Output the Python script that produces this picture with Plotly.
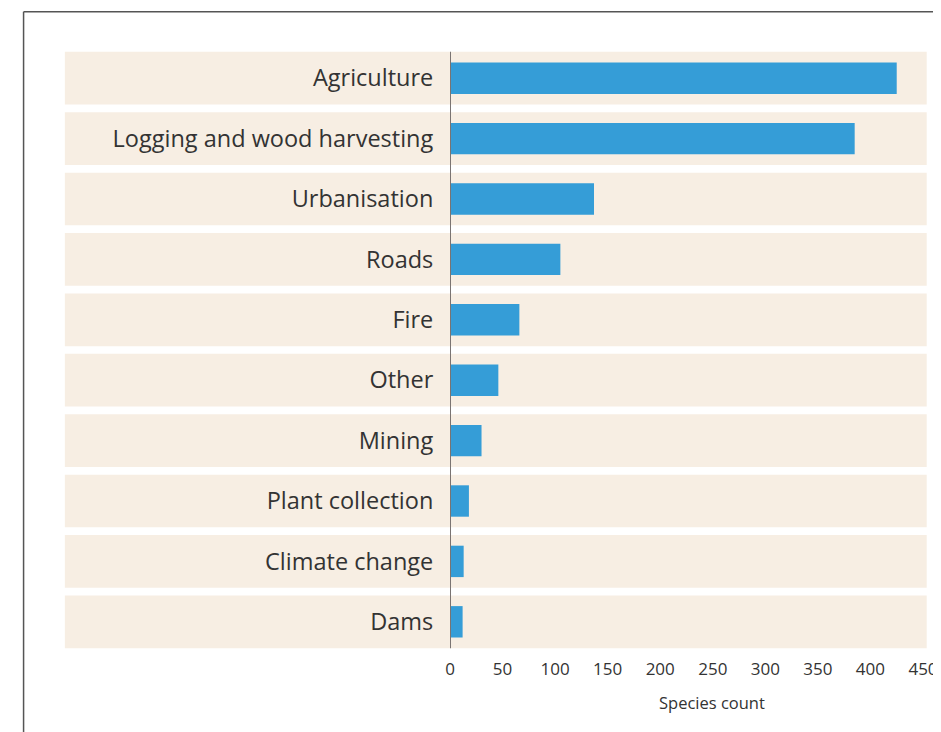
import plotly.graph_objects as go

categories = ["Agriculture", "Logging and wood harvesting", "Urbanisation", "Roads", "Fire",
              "Other", "Mining", "Plant collection", "Climate change", "Dams"]
species_count = [425, 385, 137, 105, 66, 46, 30, 18, 13, 12]
tick_values = [0, 50, 100, 150, 200, 250, 300, 350, 400, 450]

BAR = "#359DD7"
BAND = "#F7EEE3"
TEXT = "#333333"
FONT = "Open Sans, sans-serif"

OFF = 8  # page body margin
W, H = 941 - OFF, 732 - OFF
# target (screen) pixel positions
X0, X450 = 449.7, 923.0
YTOP, YBOT = 48.2, 652.2
L = X0 - OFF
R = W - (X450 - OFF)
T = YTOP - OFF
B = H - (YBOT - OFF)
pw = W - L - R
ph = H - T - B

def px_x(px):
    return (px - OFF - L) / pw

def px_y(py):
    return (H - B - (py - OFF)) / ph

fig = go.Figure()
fig.add_trace(go.Bar(
    x=species_count, y=categories, orientation="h",
    marker=dict(color=BAR, line=dict(width=0)),
    width=0.52, hoverinfo="x+y",
))

shapes = []
for i, c in enumerate(categories):
    shapes.append(dict(type="rect", xref="paper", yref="y",
                       x0=px_x(64.3), x1=px_x(926.7), y0=i - 0.436, y1=i + 0.436,
                       fillcolor=BAND, line=dict(width=0), layer="below"))
# zero axis line
shapes.append(dict(type="line", xref="x", yref="y", x0=0, x1=0,
                   y0=-0.436, y1=len(categories) - 1 + 0.436,
                   line=dict(color="#7a7472", width=2), layer="above"))
# outer frame lines
shapes.append(dict(type="line", xref="paper", yref="paper",
                   x0=px_x(23), x1=px_x(23), y0=px_y(12), y1=px_y(760),
                   line=dict(color="#555555", width=1.5)))
shapes.append(dict(type="line", xref="paper", yref="paper",
                   x0=px_x(23), x1=px_x(1000), y0=px_y(12), y1=px_y(12),
                   line=dict(color="#555555", width=1.5)))

fig.update_layout(
    width=W, height=H,
    margin=dict(l=L, r=R, t=T, b=B, autoexpand=False),
    paper_bgcolor="white", plot_bgcolor="rgba(0,0,0,0)",
    showlegend=False,
    font=dict(family=FONT, color=TEXT),
    shapes=shapes,
    xaxis=dict(range=[0, 450], tickvals=tick_values, showgrid=False, zeroline=False,
               showline=False, ticks="outside", ticklen=2, tickcolor="rgba(0,0,0,0)",
               tickfont=dict(size=17, color=TEXT), fixedrange=True),
    yaxis=dict(categoryorder="array", categoryarray=categories, range=[len(categories) - 0.5, -0.5],
               showgrid=False, zeroline=False, showline=False, ticks="outside", ticklen=11,
               tickcolor="rgba(0,0,0,0)", tickfont=dict(size=23.5, color=TEXT), fixedrange=True),
    annotations=[dict(text="Species count", xref="paper", yref="paper",
                      x=px_x(712), y=px_y(703), showarrow=False,
                      font=dict(size=16.5, color=TEXT), xanchor="center", yanchor="middle")],
)

fig.write_html("out.html")
